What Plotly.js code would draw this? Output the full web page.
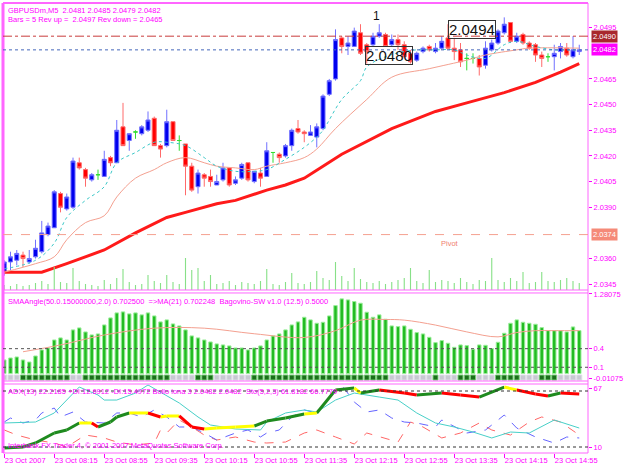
<!DOCTYPE html>
<html><head><meta charset="utf-8">
<script src="https://cdn.plot.ly/plotly-3.0.1.min.js"></script>
<style>html,body{margin:0;padding:0;background:#fff}#chart{width:625px;height:469px}</style>
</head><body><div id="chart"></div>
<script>
// ---- Price bars (GBPUSDm, M5, 23 Oct 2007) ----
const openP  = [2.0352,2.0358,2.0359,2.0362,2.0358,2.0361,2.0364,2.0374,2.0378,2.0398,
                2.0389,2.0390,2.0416,2.0412,2.0406,2.0409,2.0408,2.0419,2.0416,2.0437,
                2.0429,2.0434,2.0433,2.0435,2.0442,2.0426,2.0426,2.0440,2.0429,2.0427,
                2.0414,2.0402,2.0409,2.0408,2.0403,2.0406,2.0413,2.0404,2.0407,2.0416,
                2.0405,2.0410,2.0408,2.0422,2.0421,2.0420,2.0426,2.0436,2.0434,2.0432,
                2.0431,2.0436,2.0456,2.0465,2.0489,2.0484,2.0484,2.0492,2.0485,2.0485,
                2.0490,2.0491,2.0485,2.0488,2.0485,2.0480,2.0476,2.0481,2.0484,2.0481,
                2.0483,2.0489,2.0483,2.0482,2.0477,2.0477,2.0477,2.0473,2.0482,2.0486,
                2.0492,2.0498,2.0487,2.0491,2.0486,2.0485,2.0479,2.0478,2.0478,2.0481,
                2.0483,2.0478,2.0481];
const highP  = [2.0359,2.0364,2.0365,2.0364,2.0365,2.0371,2.0382,2.0381,2.0400,2.0399,
                2.0398,2.0419,2.0419,2.0413,2.0410,2.0412,2.0423,2.0420,2.0441,2.0451,
                2.0433,2.0435,2.0438,2.0446,2.0443,2.0427,2.0447,2.0440,2.0432,2.0427,
                2.0416,2.0412,2.0410,2.0412,2.0409,2.0416,2.0413,2.0408,2.0416,2.0416,
                2.0411,2.0413,2.0428,2.0422,2.0422,2.0427,2.0436,2.0441,2.0435,2.0438,
                2.0439,2.0456,2.0465,2.0494,2.0490,2.0490,2.0495,2.0497,2.0486,2.0492,
                2.0497,2.0492,2.0491,2.0491,2.0487,2.0482,2.0481,2.0484,2.0485,2.0486,
                2.0490,2.0497,2.0489,2.0486,2.0480,2.0480,2.0479,2.0487,2.0488,2.0494,
                2.0501,2.0498,2.0492,2.0492,2.0487,2.0486,2.0481,2.0480,2.0485,2.0486,
                2.0486,2.0490,2.0485];
const lowP   = [2.0350,2.0353,2.0356,2.0355,2.0357,2.0360,2.0363,2.0373,2.0378,2.0387,
                2.0388,2.0389,2.0412,2.0402,2.0405,2.0406,2.0408,2.0414,2.0416,2.0426,
                2.0423,2.0430,2.0432,2.0434,2.0426,2.0419,2.0425,2.0429,2.0423,2.0397,
                2.0399,2.0398,2.0402,2.0402,2.0403,2.0405,2.0402,2.0403,2.0406,2.0405,
                2.0404,2.0402,2.0408,2.0416,2.0416,2.0419,2.0423,2.0433,2.0428,2.0432,
                2.0425,2.0435,2.0455,2.0464,2.0480,2.0479,2.0484,2.0479,2.0474,2.0484,
                2.0489,2.0484,2.0484,2.0482,2.0477,2.0474,2.0475,2.0480,2.0481,2.0480,
                2.0482,2.0482,2.0476,2.0472,2.0470,2.0474,2.0467,2.0471,2.0481,2.0485,
                2.0491,2.0486,2.0486,2.0485,2.0482,2.0475,2.0472,2.0475,2.0470,2.0477,
                2.0478,2.0477,2.0479];
const closeP = [2.0358,2.0361,2.0363,2.0360,2.0360,2.0366,2.0375,2.0379,2.0399,2.0390,
                2.0396,2.0417,2.0413,2.0407,2.0409,2.0409,2.0418,2.0416,2.0435,2.0426,
                2.0433,2.0434,2.0437,2.0441,2.0426,2.0424,2.0440,2.0429,2.0429,2.0414,
                2.0400,2.0410,2.0407,2.0405,2.0405,2.0413,2.0403,2.0406,2.0415,2.0406,
                2.0411,2.0407,2.0423,2.0422,2.0419,2.0426,2.0435,2.0434,2.0433,2.0434,
                2.0437,2.0455,2.0464,2.0488,2.0484,2.0486,2.0493,2.0480,2.0481,2.0490,
                2.0492,2.0484,2.0488,2.0485,2.0478,2.0475,2.0480,2.0483,2.0482,2.0483,
                2.0487,2.0483,2.0481,2.0475,2.0477,2.0477,2.0472,2.0483,2.0486,2.0493,
                2.0497,2.0487,2.0490,2.0486,2.0483,2.0479,2.0477,2.0478,2.0480,2.0484,
                2.0479,2.0482,2.0482];
const tickVolume = [5,4,6,4,5,7,9,6,23,8, 7,22,9,6,5,4,10,6,12,21, 8,5,6,15,9,7,15,8,6,32,
                    20,22,9,15,6,7,9,5,8,7, 6,9,21,6,5,8,17,7,6,8, 19,12,10,28,14,9,22,11,8,7,
                    9,6,8,10,12,22,9,7,20,8, 10,9,7,12,8,6,10,9,32,10, 8,12,9,18,7,8,18,9,8,10,
                    12,9,7];
// ---- Moving averages on price (read at sample bars) ----
const maFastIdx = [0,5,8,10,13,16,18,21,24,26,29,32,34,37,40,42,45,48,50,51,54,57,58,61,64,66,69,72,74,77,80,82,85,88,90,92];
const maFastVal = [2.0354,2.0359,2.0369,2.0384,2.0394,2.0402,2.0416,2.0422,2.0428,2.0428,2.0426,2.0419,2.0414,2.0411,2.0411,
                   2.0412,2.0418,2.0425,2.0431,2.0435,2.0453,2.0464,2.0472,2.0478,2.0481,2.0482,2.0482,2.0482,2.0479,2.0477,
                   2.0485,2.0487,2.0484,2.0482,2.0482,2.0482];
const maMidIdx = [0,5,8,10,13,16,18,21,24,26,29,32,34,37,40,42,45,48,50,53,58,62,68,74,77,82,84,92];
const maMidVal = [2.0352,2.0357,2.0361,2.0371,2.0381,2.0385,2.0396,2.0407,2.0412,2.0416,2.0419,2.0416,2.0414,2.0413,2.0412,
                  2.0414,2.0416,2.0419,2.0424,2.0436,2.0453,2.0466,2.0471,2.0476,2.0479,2.0482,2.0483,2.0483];
const maSlowIdx = [0,6,10,16,21,26,29,34,37,42,45,48,51,54,62,69,74,80,85,89,92];
const maSlowVal = [2.0352,2.0352,2.0357,2.0365,2.0375,2.0384,2.0387,2.0392,2.0394,2.0400,2.0403,2.0407,2.0414,2.0421,2.0436,
                   2.0446,2.0451,2.0457,2.0463,2.0469,2.0474];
const priceTicks = [2.0345,2.0360,2.0390,2.0405,2.0420,2.0435,2.0450,2.0465,2.0495];
const levelHigh = 2.0490, levelBid = 2.0482, levelPivot = 2.0374;
// ---- SMAAngle panel ----
const smaAngle = [0.218,0.250,0.266,0.218,0.185,0.282,0.379,0.411,0.540,0.573,
                  0.540,0.702,0.734,0.669,0.621,0.637,0.782,0.895,0.976,0.992,
                  0.960,0.976,0.944,0.976,0.927,0.831,0.863,0.798,0.766,0.702,
                  0.605,0.573,0.540,0.508,0.476,0.460,0.444,0.411,0.411,0.379,
                  0.411,0.444,0.540,0.605,0.637,0.702,0.782,0.831,
                  0.906,0.863,0.809,0.825,0.927,1.094,1.202,1.185,1.159,1.132,
                  0.987,0.906,0.944,0.874,0.766,0.755,0.766,0.712,0.659,0.637,
                  0.583,0.497,0.530,0.487,0.422,0.460,0.449,0.390,0.460,0.454,
                  0.401,0.503,0.648,0.809,0.863,0.825,0.809,0.793,0.739,0.691,
                  0.691,0.691,0.669,0.750,0.691];
const angleMaIdx = [3,9,16,24,32,40,48,53,57,61,64,69,74,79,82,85,88,92];
const angleMaVal = [0.35,0.46,0.62,0.73,0.73,0.64,0.58,0.69,0.86,0.87,0.86,0.78,0.67,0.59,0.66,0.69,0.69,0.69];
const bagovinoState = '000111111110011111111111111000011100000011111111111111111111110000000100011100011110001110000'.split('').map(Number);
const angleTickVals = [1.28075,0.4,0.1,-0.085];
const angleTickText = ['1.28075','0.4','0.1','-0.01075'];
// ---- ADX / Stochastic panel ----
const adxIdx = [0,5,8,10,12,15,16,18,21,23,25,28,31,33,37,41,42,45,48,50,53,56,60,63,66,69,72,75,78,81,84,88,92];
const adxVal = [44.3,45.7,58.6,77.1,95.7,84.3,77.1,77.1,87.1,98.6,88.6,72.9,52.9,41.4,35.7,34.3,45.7,58.6,62.9,60,
                77.1,87.1,81.4,77.1,58.6,44.3,38.6,31.4,22.9,31.4,30,48.6,37.1];
const pdiIdx = [0,1,3,5,6,8,9,11,13,16,18,20,22,24,26,28,30,32,34,37,39,41,42,44,46,48,50,52,54,56,58,60,62,64,66,69,70,73,74,77,80,82,85,88,90,92];
const pdiVal = [45.7,51.4,44.3,48.6,58.6,65.7,52.9,60,45.7,44.3,58.6,58.6,52.9,62.9,52.9,38.6,38.6,30,20,30,
                34.3,24.3,30,34.3,52.9,62.9,58.6,81.4,98.6,74.3,60,62.9,51.4,45.7,44.3,38.6,48.6,34.3,30,34.3,
                55.7,37.1,24.3,15.7,24.3,22.9];
const mdiIdx = [0,2,5,8,10,13,16,18,21,24,25,26,28,30,32,34,37,40,42,45,48,50,53,56,58,61,63,65,67,70,73,76,78,81,84,86,89,92];
const mdiVal = [34.3,27.1,20,15.7,10,27.1,22.9,17.1,12.9,15.7,34.3,30,48.6,38.6,27.1,20,24.3,17.1,15.7,17.1,
                30,34.3,24.3,14.3,30,22.9,17.1,45.7,38.6,22.9,30,44.3,34.3,27.1,45.7,52.9,45.7,27.1];
const stoIdx = [0,3,5,8,10,12,14,15,17,18,20,23,25,26,28,30,32,34,37,40,42,45,48,50,53,56,57,60,64,66,70,73,76,80,82,85,87,89,92];
const stoVal = [8.6,10,15.7,30,34.3,44.3,44.3,38.6,45.7,52.9,58.6,58.6,52.9,54.3,54.3,38.6,35.7,37.1,38.6,40,
                47.1,51.4,57.1,58.6,91.4,94.3,87.1,91.4,87.1,84.3,87.1,84.3,81.4,95.7,91.4,85.7,82.9,87.1,85.7];
const stoSegState = 'gggggyrgggyryyrryyygggyggygrrgrrgyrrgr';
const stoLevels = [90,10];
// ---- Time axis ----
const timeTickIdx = [0,8,16,24,32,40,48,56,64,72,80,88];
const timeTickText = ['23 Oct 2007','23 Oct 08:15','23 Oct 08:55','23 Oct 09:35','23 Oct 10:15','23 Oct 10:55',
                      '23 Oct 11:35','23 Oct 12:15','23 Oct 12:55','23 Oct 13:35','23 Oct 14:15','23 Oct 14:55'];

const FONT = 'Liberation Sans, Arial, sans-serif';
const MAG = '#ff00ff';
const FRAME = '#ff66ff';
const idx = openP.map((_, i) => i);
const pick = (arr, set) => set.map(i => arr[i]);
const upI = idx.filter(i => closeP[i] > openP[i]);
const dnI = idx.filter(i => closeP[i] < openP[i]);
const djI = idx.filter(i => closeP[i] === openP[i]);

function candle(set, fill, line) {
  return {type:'candlestick', x:set, open:pick(openP,set), high:pick(highP,set), low:pick(lowP,set), close:pick(closeP,set),
    xaxis:'x', yaxis:'y', whiskerwidth:0,
    increasing:{fillcolor:fill, line:{color:line, width:1}},
    decreasing:{fillcolor:fill, line:{color:line, width:1}}, hoverinfo:'skip'};
}

const traces = [];
traces.push({type:'scatter', mode:'lines', x:maSlowIdx, y:maSlowVal, xaxis:'x', yaxis:'y', line:{color:'#ff1a1a', width:3}});
traces.push({type:'scatter', mode:'lines', x:maMidIdx, y:maMidVal, xaxis:'x', yaxis:'y', line:{color:'#f4a090', width:1, shape:'spline'}});
traces.push({type:'scatter', mode:'lines', x:maFastIdx, y:maFastVal, xaxis:'x', yaxis:'y', line:{color:'#3cc8c8', width:1, dash:'dot', shape:'spline'}});
traces.push(candle(upI, '#0000ee', '#7070ff'));
traces.push(candle(dnI, '#ff0000', '#ff6a6a'));
traces.push(candle(djI, '#33dd33', '#33dd33'));
traces.push({type:'bar', x:idx, y:tickVolume, xaxis:'x', yaxis:'y4', width:0.18, marker:{color:'#88e088', line:{width:0}}});
// SMA angle panel
traces.push({type:'bar', x:idx, y:smaAngle, xaxis:'x', yaxis:'y2', width:0.55, marker:{color:'#22bb22', line:{color:'#99ee99', width:1}}});
traces.push({type:'scatter', mode:'lines', x:angleMaIdx, y:angleMaVal, xaxis:'x', yaxis:'y2', line:{color:'#f4a090', width:1, shape:'spline'}});
traces.push({type:'scatter', mode:'markers', x:idx, y:idx.map(() => -0.065), xaxis:'x', yaxis:'y2',
  marker:{symbol:'square', size:5, color:bagovinoState.map(s => s ? '#1a6e1a' : '#c8c8d2'),
  line:{color:bagovinoState.map(s => s ? '#77cc77' : '#dddde6'), width:1}}});
// ADX panel
traces.push({type:'scatter', mode:'lines', x:mdiIdx, y:mdiVal, xaxis:'x', yaxis:'y3', line:{color:'#ff6666', width:1, dash:'dash'}});
traces.push({type:'scatter', mode:'lines', x:pdiIdx, y:pdiVal, xaxis:'x', yaxis:'y3', line:{color:'#6464ff', width:1, dash:'dash'}});
traces.push({type:'scatter', mode:'lines', x:adxIdx, y:adxVal, xaxis:'x', yaxis:'y3', line:{color:'#48d0c8', width:1}});
const segColors = {g:'#1e8a1e', y:'#ffff00', r:'#ff0000'};
for (const key of ['g','y','r']) {
  const xs = [], ys = [];
  for (let k = 0; k < stoSegState.length; k++) {
    if (stoSegState[k] !== key) continue;
    xs.push(stoIdx[k], stoIdx[k+1], null);
    ys.push(stoVal[k], stoVal[k+1], null);
  }
  traces.push({type:'scatter', mode:'lines', x:xs, y:ys, xaxis:'x', yaxis:'y3', line:{color:segColors[key], width:3}, connectgaps:false});
}

const dMain = [0.3622, 1], dP1 = [0.16, 0.3556], dP2 = [0, 0.1533];
const tf = {family:FONT, size:7.5, color:MAG};
function hline(y0, color, w) { return {type:'line', xref:'paper', yref:'paper', x0:0, x1:1, y0:y0, y1:y0, line:{color:color, width:w}}; }
const shapes = [
  hline(1, FRAME, 2), hline(dMain[0], FRAME, 1), hline(dP1[1], FRAME, 1), hline(dP1[0], FRAME, 1), hline(dP2[1], FRAME, 1), hline(0, FRAME, 1),
  {type:'line', xref:'paper', yref:'paper', x0:1, x1:1, y0:0, y1:1, line:{color:FRAME, width:1}},
  {type:'line', xref:'paper', yref:'paper', x0:0, x1:0, y0:0, y1:1, line:{color:FRAME, width:3}},
  {type:'line', xref:'paper', yref:'y', x0:0, x1:1, y0:levelHigh, y1:levelHigh, line:{color:'#c83c3c', width:1, dash:'dashdot'}},
  {type:'line', xref:'paper', yref:'y', x0:0, x1:1, y0:levelBid, y1:levelBid, line:{color:'#4466bb', width:1, dash:'dot'}},
  {type:'line', xref:'paper', yref:'y', x0:0, x1:1, y0:levelPivot, y1:levelPivot, line:{color:'#f5a090', width:1, dash:'dash'}},
  {type:'line', xref:'paper', yref:'y2', x0:0, x1:1, y0:0.4, y1:0.4, line:{color:'#555555', width:1, dash:'dot'}},
  {type:'line', xref:'paper', yref:'y2', x0:0, x1:1, y0:0.1, y1:0.1, line:{color:'#555555', width:1, dash:'dot'}},
  {type:'line', xref:'paper', yref:'y3', x0:0, x1:1, y0:stoLevels[0], y1:stoLevels[0], line:{color:'#333333', width:1, dash:'dot'}},
  {type:'line', xref:'paper', yref:'y3', x0:0, x1:1, y0:stoLevels[1], y1:stoLevels[1], line:{color:'#333333', width:1, dash:'dot'}}
];
const NB = '\u00a0';
function tag(y, bg, txt) {
  return {xref:'paper', yref:'y', x:1, y:y, xanchor:'left', yanchor:'middle', xshift:3, text:txt, showarrow:false,
    bgcolor:bg, font:{family:FONT, size:7.5, color:'#ffffff'}, borderpad:1};
}
const annotations = [
  {xref:'paper', yref:'paper', x:0, y:1, xanchor:'left', yanchor:'top', xshift:3, yshift:-1, showarrow:false, font:tf,
   text:'GBPUSDm,M5' + NB + NB + '2.0481 2.0485 2.0479 2.0482'},
  {xref:'paper', yref:'paper', x:0, y:1, xanchor:'left', yanchor:'top', xshift:3, yshift:-10, showarrow:false, font:tf,
   text:'Bars = 5 Rev up = ' + NB + '2.0497 Rev down = 2.0465'},
  {xref:'paper', yref:'paper', x:0, y:dP1[1], xanchor:'left', yanchor:'top', xshift:3, yshift:-2, showarrow:false, font:tf,
   text:'SMAAngle(50.0.15000000,2.0) 0.702500' + NB + NB + '=&gt;MA(21) 0.702248' + NB + NB + 'Bagovino-SW v1.0 (12.5) 0.5000'},
  {xref:'paper', yref:'paper', x:0, y:dP2[1], xanchor:'left', yanchor:'top', xshift:3, yshift:-1, showarrow:false, font:tf,
   text:'ADX(13) 22.2185 +DI:12.6912 -DI:15.4972 Bollo lona 3 2.0482 2.0482' + NB + NB + 'Sto(5,2,3) 61.8182 66.7779'},
  {xref:'paper', yref:'paper', x:0, y:0, xanchor:'left', yanchor:'bottom', xshift:3, yshift:1, showarrow:false, font:tf,
   text:'Interbank FX Trader 4, \u00a9 2001-2007 MetaQuotes Software Corp.'},
  tag(levelHigh, '#a8282d', '2.0490'),
  tag(levelBid, '#ff00ff', '2.0482'),
  tag(levelPivot, '#f58a78', '2.0374'),
  {xref:'x', yref:'y', x:61.6, y:2.0479, text:'2.0480', showarrow:false, font:{family:FONT, size:15, color:'#111111'},
   bordercolor:'#333333', borderwidth:1, borderpad:0},
  {xref:'x', yref:'y', x:74.9, y:2.0494, text:'2.0494', showarrow:false, font:{family:FONT, size:15, color:'#111111'},
   bordercolor:'#333333', borderwidth:1, borderpad:0},
  {xref:'x', yref:'y', x:59.6, y:2.0502, text:'1', showarrow:false, font:{family:FONT, size:12, color:'#111111'}},
  {xref:'x', yref:'y', x:71.3, y:levelPivot, yshift:-9, text:'Pivot', showarrow:false, font:{family:FONT, size:7.5, color:'#f08070'}}
];
const yCommon = {side:'right', anchor:'x', showgrid:false, zeroline:false, ticks:'outside', ticklen:3, tickcolor:MAG, tickfont:tf, showline:false, fixedrange:true};
const layout = {
  width:625, height:469, margin:{l:3, r:37, t:3, b:16}, paper_bgcolor:'#ffffff', plot_bgcolor:'#ffffff',
  showlegend:false, boxgap:0.35, boxgroupgap:0, hovermode:false, dragmode:false,
  xaxis:{range:[-0.2, 93.4], anchor:'y3', showgrid:false, zeroline:false, showline:false, tickvals:timeTickIdx, ticktext:timeTickText,
         ticks:'outside', ticklen:4, tickcolor:MAG, tickfont:tf, tickangle:0, ticklabelposition:'outside right',
         rangeslider:{visible:false}, fixedrange:true},
  yaxis:Object.assign({}, yCommon, {domain:dMain, range:[2.03416, 2.05094], tickvals:priceTicks, tickformat:'.4f'}),
  yaxis2:Object.assign({}, yCommon, {domain:dP1, range:[-0.121, 1.297], tickvals:angleTickVals, ticktext:angleTickText}),
  yaxis3:Object.assign({}, yCommon, {domain:dP2, range:[1.43, 100], tickvals:[94, 10], ticktext:['67','10']}),
  yaxis4:{overlaying:'y', anchor:'x', range:[0, 287], visible:false, fixedrange:true},
  shapes:shapes, annotations:annotations
};
Plotly.newPlot('chart', traces, layout, {staticPlot:true, displayModeBar:false});
</script></body></html>
